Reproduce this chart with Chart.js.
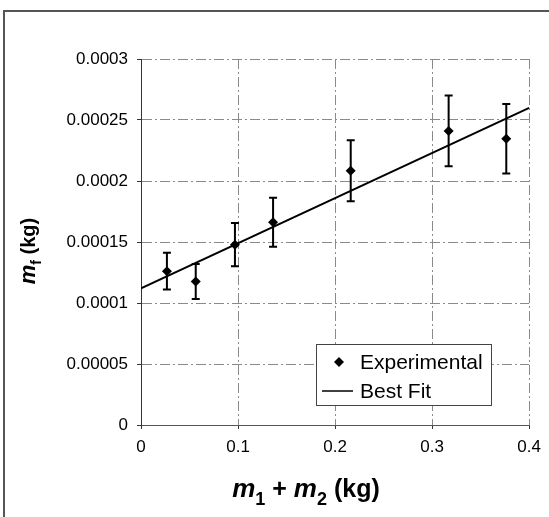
<!DOCTYPE html>
<html>
<head>
<meta charset="utf-8">
<script src="https://cdn.jsdelivr.net/npm/chart.js@4.4.1/dist/chart.umd.min.js"></script>
<style>
  html, body { margin: 0; padding: 0; background: #fff; }
  #wrap { width: 549px; height: 517px; position: relative; }
</style>
</head>
<body>
<div id="wrap"><canvas id="c" width="549" height="517"></canvas></div>
<script>
// ---- data ----
const massSum = [0.0267, 0.0564, 0.0968, 0.1361, 0.2161, 0.3170, 0.3764];   // m1 + m2 (kg)
const mf      = [0.0001261, 0.0001176, 0.0001478, 0.0001662, 0.0002085, 0.0002410, 0.0002346]; // m_f (kg)
const mfErr   = [0.0000150, 0.0000143, 0.0000177, 0.0000200, 0.0000250, 0.0000290, 0.0000285];
const fitX    = [0, 0.4];
const fitY    = [0.000112, 0.000260];
const xTickLabels = ['0', '0.1', '0.2', '0.3', '0.4'];
const yTickLabels = ['0', '0.00005', '0.0001', '0.00015', '0.0002', '0.00025', '0.0003'];
const seriesNames = ['Experimental', 'Best Fit'];

const FONT = '"Liberation Sans", Arial, sans-serif';

const expData = massSum.map((x, i) => ({ x: x, y: mf[i] }));
const fitData = fitX.map((x, i) => ({ x: x, y: fitY[i] }));

const extras = {
  id: 'extras',
  beforeDraw(chart) {
    const ctx = chart.ctx;
    ctx.save();
    ctx.fillStyle = '#fff';
    ctx.fillRect(0, 0, chart.width, chart.height);
    ctx.strokeStyle = '#555';
    ctx.lineWidth = 2;
    ctx.beginPath();
    ctx.moveTo(4, chart.height);
    ctx.lineTo(4, 11);
    ctx.lineTo(chart.width, 11);
    ctx.stroke();
    ctx.restore();
  },
  afterDatasetsDraw(chart) {
    const ctx = chart.ctx;
    const xs = chart.scales.x, ys = chart.scales.y;
    ctx.save();
    ctx.strokeStyle = '#000';
    ctx.lineWidth = 2;
    massSum.forEach((x, i) => {
      const px = xs.getPixelForValue(x);
      const top = ys.getPixelForValue(mf[i] + mfErr[i]);
      const bot = ys.getPixelForValue(mf[i] - mfErr[i]);
      ctx.beginPath();
      ctx.moveTo(px, top); ctx.lineTo(px, bot);
      ctx.moveTo(px - 4, top); ctx.lineTo(px + 4, top);
      ctx.moveTo(px - 4, bot); ctx.lineTo(px + 4, bot);
      ctx.stroke();
    });
    ctx.restore();
  },
  afterDraw(chart) {
    const ctx = chart.ctx;
    ctx.save();
    ctx.fillStyle = '#000';
    ctx.textBaseline = 'alphabetic';

    // x axis title: m1 + m2 (kg)
    const parts = [
      { t: 'm', f: 'italic bold 26px ' + FONT, dy: 0 },
      { t: '1', f: 'bold 18px ' + FONT, dy: 8 },
      { t: ' + ', f: 'bold 25px ' + FONT, dy: 0 },
      { t: 'm', f: 'italic bold 26px ' + FONT, dy: 0 },
      { t: '2', f: 'bold 18px ' + FONT, dy: 8 },
      { t: ' (kg)', f: 'bold 25px ' + FONT, dy: 0 }
    ];
    let total = 0;
    parts.forEach(p => { ctx.font = p.f; p.w = ctx.measureText(p.t).width; total += p.w; });
    let x0 = 306 - total / 2;
    const by = 497;
    parts.forEach(p => { ctx.font = p.f; ctx.fillText(p.t, x0, by + p.dy); x0 += p.w; });

    // y axis title: m_f (kg)
    ctx.save();
    ctx.translate(35, 251);
    ctx.rotate(-Math.PI / 2);
    const yp = [
      { t: 'm', f: 'italic bold 22px ' + FONT, dy: 0 },
      { t: 'f', f: 'bold 14px ' + FONT, dy: 6 },
      { t: ' (kg)', f: 'bold 20px ' + FONT, dy: 0 }
    ];
    let tw = 0;
    yp.forEach(p => { ctx.font = p.f; p.w = ctx.measureText(p.t).width; tw += p.w; });
    let yx = -tw / 2;
    yp.forEach(p => { ctx.font = p.f; ctx.fillText(p.t, yx, p.dy); yx += p.w; });
    ctx.restore();

    // legend
    const lx = 316, ly = 344, lw = 175, lh = 61;
    ctx.fillStyle = '#fff';
    ctx.fillRect(lx, ly, lw, lh);
    ctx.strokeStyle = '#444';
    ctx.lineWidth = 1;
    ctx.strokeRect(lx + 0.5, ly + 0.5, lw, lh);
    ctx.fillStyle = '#000';
    ctx.font = '21px ' + FONT;
    ctx.textBaseline = 'middle';
    const dx = 339, dy1 = 362;
    ctx.beginPath();
    ctx.moveTo(dx, dy1 - 5); ctx.lineTo(dx + 5, dy1); ctx.lineTo(dx, dy1 + 5); ctx.lineTo(dx - 5, dy1);
    ctx.closePath(); ctx.fill();
    ctx.fillText(seriesNames[0], 360, dy1 + 1);
    const dy2 = 391;
    ctx.strokeStyle = '#000';
    ctx.lineWidth = 1.5;
    ctx.beginPath(); ctx.moveTo(322, dy2); ctx.lineTo(353, dy2); ctx.stroke();
    ctx.fillText(seriesNames[1], 360, dy2 + 1);
    ctx.restore();
  }
};

const gridCommon = {
  color: '#8a8a8a',
  lineWidth: 1,
  drawTicks: true,
  tickLength: 4,
  tickColor: '#333'
};

new Chart(document.getElementById('c'), {
  type: 'scatter',
  data: {
    datasets: [
      {
        label: seriesNames[0],
        data: expData,
        pointStyle: 'rectRot',
        pointRadius: 5,
        pointHoverRadius: 5,
        backgroundColor: '#000',
        borderColor: '#000',
        borderWidth: 0,
        showLine: false,
        order: 1
      },
      {
        label: seriesNames[1],
        data: fitData,
        showLine: true,
        borderColor: '#000',
        borderWidth: 2,
        pointRadius: 0,
        fill: false,
        order: 2
      }
    ]
  },
  options: {
    responsive: false,
    animation: false,
    devicePixelRatio: 1,
    layout: { padding: { top: 59, right: 17, left: 0, bottom: 0 } },
    plugins: {
      legend: { display: false },
      tooltip: { enabled: false },
      title: { display: false }
    },
    scales: {
      x: {
        type: 'linear',
        min: 0, max: 0.4,
        afterFit(s) { s.height = 92; },
        grid: gridCommon,
        border: { display: true, color: '#555', width: 1, dash: [10, 3, 2, 3] },
        ticks: {
          stepSize: 0.1,
          padding: 8,
          color: '#000',
          font: { family: FONT, size: 17 },
          callback: (v) => xTickLabels[Math.round(v * 10)]
        }
      },
      y: {
        type: 'linear',
        min: 0, max: 0.0003,
        afterFit(s) { s.width = 141; },
        grid: gridCommon,
        border: { display: true, color: '#333', width: 1, dash: [10, 3, 2, 3] },
        ticks: {
          stepSize: 0.00005,
          padding: 9,
          color: '#000',
          font: { family: FONT, size: 17 },
          callback: (v) => yTickLabels[Math.round(v / 0.00005)]
        }
      }
    }
  },
  plugins: [extras]
});
</script>
</body>
</html>
